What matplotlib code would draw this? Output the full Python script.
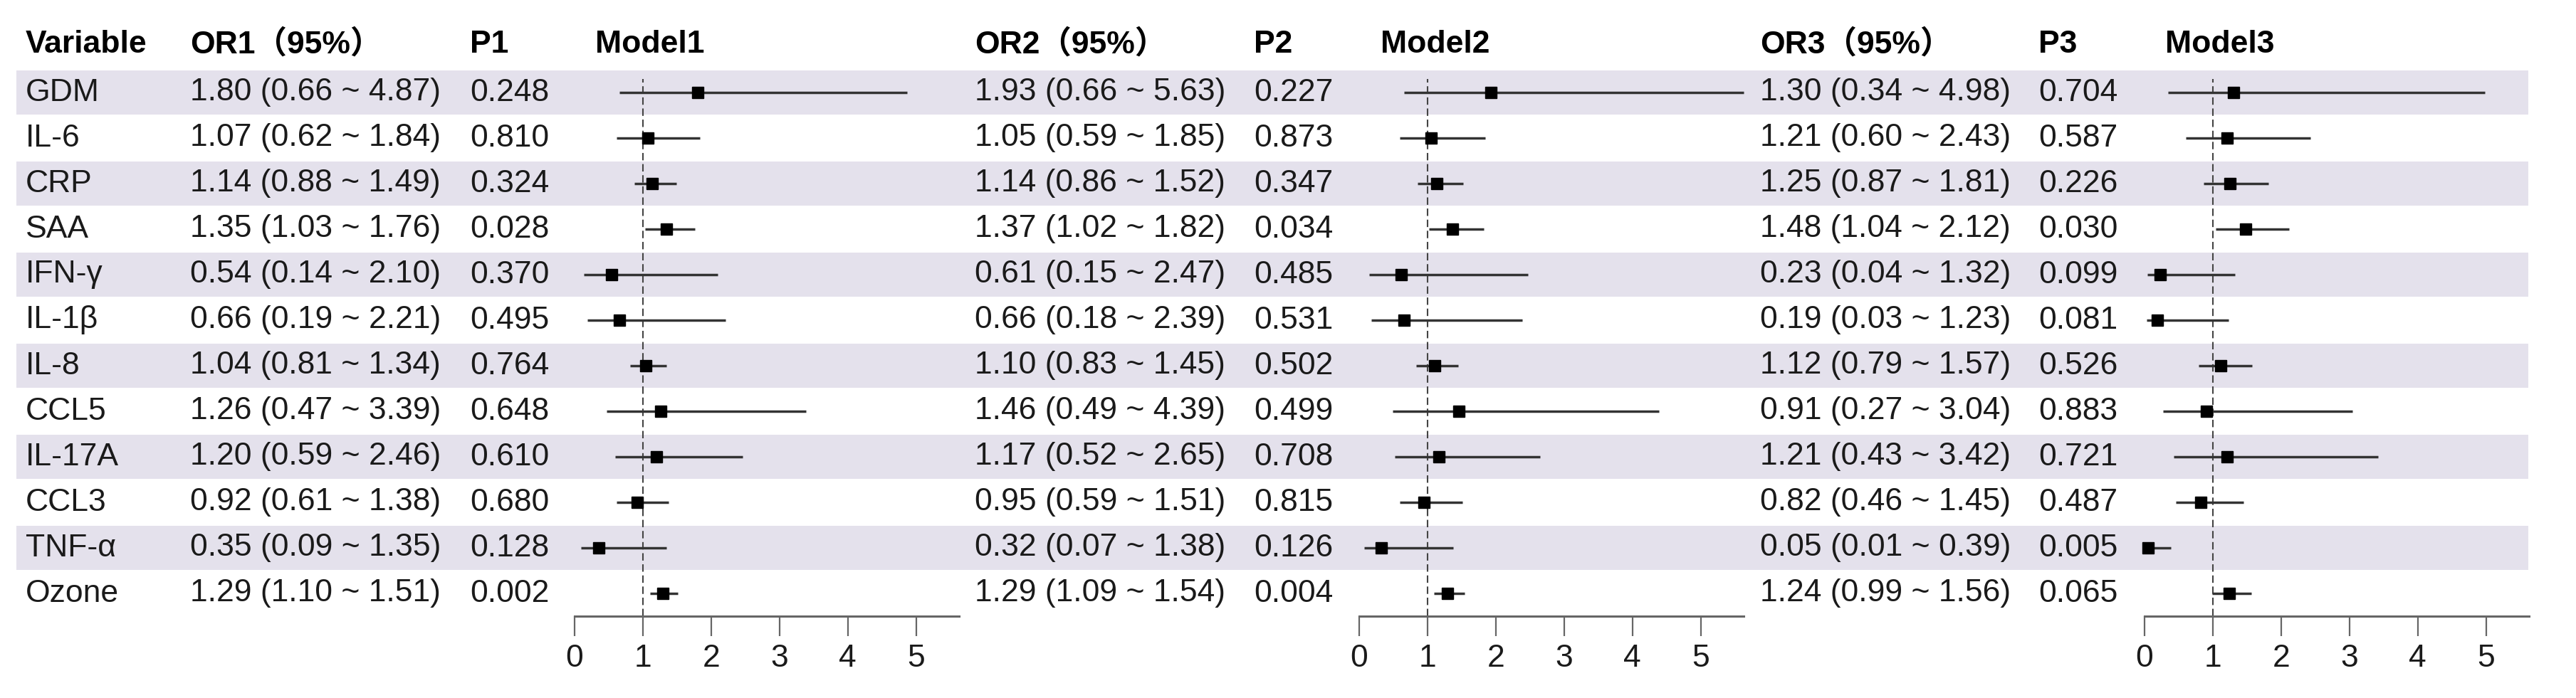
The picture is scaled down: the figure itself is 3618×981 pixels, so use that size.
import matplotlib
matplotlib.use("Agg")
import matplotlib.pyplot as plt
from matplotlib.patches import Rectangle

# ---------------- data ----------------
variables = ["GDM", "IL-6", "CRP", "SAA", "IFN-γ", "IL-1β", "IL-8", "CCL5",
             "IL-17A", "CCL3", "TNF-α", "Ozone"]

or1 = [1.80, 1.07, 1.14, 1.35, 0.54, 0.66, 1.04, 1.26, 1.20, 0.92, 0.35, 1.29]
lo1 = [0.66, 0.62, 0.88, 1.03, 0.14, 0.19, 0.81, 0.47, 0.59, 0.61, 0.09, 1.10]
hi1 = [4.87, 1.84, 1.49, 1.76, 2.10, 2.21, 1.34, 3.39, 2.46, 1.38, 1.35, 1.51]
p1 = [0.248, 0.810, 0.324, 0.028, 0.370, 0.495, 0.764, 0.648, 0.610, 0.680, 0.128, 0.002]

or2 = [1.93, 1.05, 1.14, 1.37, 0.61, 0.66, 1.10, 1.46, 1.17, 0.95, 0.32, 1.29]
lo2 = [0.66, 0.59, 0.86, 1.02, 0.15, 0.18, 0.83, 0.49, 0.52, 0.59, 0.07, 1.09]
hi2 = [5.63, 1.85, 1.52, 1.82, 2.47, 2.39, 1.45, 4.39, 2.65, 1.51, 1.38, 1.54]
p2 = [0.227, 0.873, 0.347, 0.034, 0.485, 0.531, 0.502, 0.499, 0.708, 0.815, 0.126, 0.004]

or3 = [1.30, 1.21, 1.25, 1.48, 0.23, 0.19, 1.12, 0.91, 1.21, 0.82, 0.05, 1.24]
lo3 = [0.34, 0.60, 0.87, 1.04, 0.04, 0.03, 0.79, 0.27, 0.43, 0.46, 0.01, 0.99]
hi3 = [4.98, 2.43, 1.81, 2.12, 1.32, 1.23, 1.57, 3.04, 3.42, 1.45, 0.39, 1.56]
p3 = [0.704, 0.587, 0.226, 0.030, 0.099, 0.081, 0.526, 0.883, 0.721, 0.487, 0.005, 0.065]

headers_or = ["OR1（95%）", "OR2（95%）", "OR3（95%）"]
headers_p = ["P1", "P2", "P3"]
headers_model = ["Model1", "Model2", "Model3"]
tick_values = [0, 1, 2, 3, 4, 5]

# ---------------- layout ----------------
W, H = 3618, 981
FONT = ["Liberation Sans", "Noto Sans CJK SC", "DejaVu Sans"]
plt.rcParams["font.family"] = FONT
FS = 32

fig = plt.figure(figsize=(W / 100, H / 100), dpi=100)
fig.patch.set_facecolor("white")
bg = fig.add_axes([0, 0, 1, 1])
bg.set_xlim(0, W)
bg.set_ylim(H, 0)
bg.axis("off")

row0, pitch = 130, 64
header_y = 62
n = len(variables)
band_left, band_right = 23, 3551
band_color = "#e4e1ec"

for i in range(n):
    if i % 2 == 0:
        bg.add_patch(Rectangle((band_left, row0 + i * pitch - pitch / 2 + 1),
                               band_right - band_left, pitch - 2,
                               facecolor=band_color, lw=0, zorder=0))

# headers
bg.text(36, header_y, "Variable", fontsize=FS, fontweight="bold", va="center", ha="left")
or_x = [267, 1369, 2472]
p_x = [660, 1761, 2863]
model_title_x = [836, 1939, 3041]
panel_x0 = [807, 1909, 3012]
panel_w = 540

models = [(or1, lo1, hi1, p1), (or2, lo2, hi2, p2), (or3, lo3, hi3, p3)]

for k in range(3):
    bg.text(or_x[k], header_y, headers_or[k], fontsize=FS, fontweight="bold", va="center", ha="left")
    bg.text(p_x[k], header_y, headers_p[k], fontsize=FS, fontweight="bold", va="center", ha="left")
    bg.text(model_title_x[k], header_y, headers_model[k], fontsize=FS, fontweight="bold",
            va="center", ha="left")

for i, v in enumerate(variables):
    bg.text(36, row0 + i * pitch, v, fontsize=FS, va="center", ha="left", color="#1a1a1a")

for k, (est, lo, hi, pv) in enumerate(models):
    for i in range(n):
        y = row0 + i * pitch
        bg.text(or_x[k], y, f"{est[i]:.2f} ({lo[i]:.2f} ~ {hi[i]:.2f})",
                fontsize=FS, va="center", ha="left", color="#1a1a1a")
        bg.text(p_x[k], y, f"{pv[i]:.3f}", fontsize=FS, va="center", ha="left",
                color="#1a1a1a")

# ---------------- forest panels ----------------
xmax = max(max(hi1), max(hi2), max(hi3))
top_px, axis_px = 98, 866
for k, (est, lo, hi, pv) in enumerate(models):
    ax = fig.add_axes([panel_x0[k] / W, 1 - axis_px / H, panel_w / W, (axis_px - top_px) / H])
    ax.patch.set_alpha(0)
    ax.set_xlim(0, xmax)
    ax.set_ylim(n - 0.5, -0.5)
    for s in ["top", "right", "left"]:
        ax.spines[s].set_visible(False)
    ax.spines["bottom"].set_color("#666666")
    ax.spines["bottom"].set_linewidth(2.2)
    ax.set_yticks([])
    ax.set_xticks(tick_values)
    ax.set_xticklabels([str(t) for t in tick_values])
    ax.tick_params(axis="x", direction="out", length=20, width=1.6, color="#666666",
                   labelsize=FS, pad=8, labelcolor="#1a1a1a")
    ax.plot([1, 1], [n - 0.5, -0.3], ls=(0, (5, 2.5)), color="#444444", lw=1.5,
            clip_on=False, zorder=2)
    yy = list(range(n))
    ax.hlines(yy, lo, hi, color="#333333", lw=2.5, zorder=3, clip_on=False)
    ax.plot(est, yy, ls="none", marker="s", markersize=11, color="black", zorder=4,
            clip_on=False)

fig.savefig("out.png", dpi=100, facecolor="white")
